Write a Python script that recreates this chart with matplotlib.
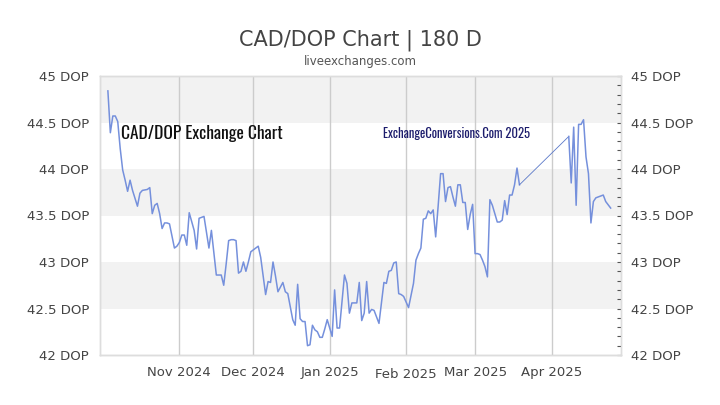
"""CAD/DOP exchange rate chart, 180 days."""

import matplotlib
matplotlib.use("Agg")
import matplotlib.pyplot as plt
from matplotlib.ticker import MultipleLocator
import pandas as pd

base_date = "2024-11-01"

# days after base_date, and the rate on that day
day_offsets = [
    -29, -28, -27, -26, -25, -24, -23, -22, -21, -20, -19, -17, -16, -15,
    -13, -12, -11, -10, -9, -8, -7, -6, -5, -4, -2, -1, 0,
    1, 2, 3, 4, 6, 7, 8, 9, 10, 12, 13, 14, 15, 17, 18, 19, 20, 21, 22, 23,
    24, 25, 26, 27, 28, 29, 30, 31, 32, 33, 34, 35, 36, 37, 38, 39, 40, 41,
    42, 43, 44, 45, 46, 47, 48, 49, 50, 51, 52, 53, 54, 55, 56, 57, 58, 59,
    60, 61, 62, 63, 64, 65, 66, 67, 68, 69, 70, 71, 72, 73, 74, 75, 76, 77,
    78, 79, 80, 81, 82, 83, 84, 85, 86, 87, 88, 89, 90, 91, 92, 93, 94, 95,
    96, 97, 98, 99, 100, 101, 102, 103, 104, 105, 106, 107, 108, 109, 110,
    111, 112, 113, 114, 115, 116, 117, 118, 119, 120, 121, 122, 123, 124,
    125, 126, 127, 128, 129, 130, 131, 132, 133, 134, 135, 136, 137, 138,
]
rates = [
    44.84, 44.39, 44.57, 44.57, 44.51, 44.22, 43.99, 43.88, 43.76, 43.88,
    43.77, 43.60, 43.74, 43.77, 43.78, 43.80, 43.52, 43.61, 43.63, 43.52,
    43.36, 43.42, 43.42, 43.41, 43.15, 43.17, 43.21,
    43.29, 43.29, 43.18, 43.53, 43.34, 43.14, 43.47, 43.48, 43.49, 43.15,
    43.34, 43.10, 42.86, 42.86, 42.75, 42.98, 43.23, 43.24, 43.24, 43.23,
    42.88, 42.90, 43.00, 42.90, 43.00, 43.11, 43.13, 43.15, 43.17, 43.05,
    42.85, 42.65, 42.79, 42.78, 43.00, 42.85, 42.68, 42.73,
    42.78, 42.68, 42.66, 42.52, 42.38, 42.32, 42.76, 42.39, 42.36, 42.36,
    42.10, 42.11, 42.32, 42.27, 42.25, 42.19, 42.19, 42.28,
    42.38, 42.29, 42.20, 42.70, 42.29, 42.29, 42.58, 42.86, 42.77, 42.45,
    42.56, 42.56, 42.56, 42.78, 42.37, 42.45, 42.79, 42.45,
    42.49, 42.48, 42.41, 42.34, 42.56, 42.78, 42.77, 42.90, 42.91, 42.99,
    43.00, 42.66, 42.65, 42.63, 42.57, 42.51, 42.64, 42.77,
    43.02, 43.09, 43.15, 43.46, 43.47, 43.55, 43.52, 43.56, 43.27, 43.60,
    43.95, 43.95, 43.65, 43.80, 43.81,
    43.70, 43.60, 43.83, 43.83, 43.64, 43.64, 43.35, 43.51, 43.62, 43.09,
    43.09, 43.08, 43.02, 42.95,
    42.84, 43.67, 43.61, 43.52, 43.43, 43.43, 43.45, 43.66, 43.51, 43.72,
    43.72, 43.83, 44.01, 43.83,
]

# after the gap in the data
late_offsets = [158, 159, 160, 161, 162, 163, 164, 165, 166, 167, 168, 169,
                170, 172, 173, 175]
late_rates = [44.35, 43.85, 44.45, 43.61, 44.48, 44.48, 44.53, 44.13, 43.95,
              43.42, 43.65, 43.69, 43.70, 43.72, 43.65, 43.58]

month_ticks = ["2024-11-01", "2024-12-01", "2025-01-01", "2025-02-01",
               "2025-03-01", "2025-04-01"]
month_labels = ["Nov 2024", "Dec 2024", "Jan 2025", "Feb 2025",
                "Mar 2025", "Apr 2025"]
rate_ticks = [42, 42.5, 43, 43.5, 44, 44.5, 45]

base = pd.Timestamp(base_date)
dates = base + pd.to_timedelta(day_offsets, unit="D")
late_dates = base + pd.to_timedelta(late_offsets, unit="D")

line_color = "#7590dc"
text_color = "#444444"

fig = plt.figure(figsize=(7.2, 4.05), dpi=100)
ax = fig.add_axes([100 / 720, 1 - 355 / 405, 521 / 720, 279 / 405])

for low in [42.5, 43.5, 44.5]:
    ax.axhspan(low, low + 0.5, color="#f2f2f2", zorder=0, lw=0)

for m in month_ticks:
    ax.axvline(pd.Timestamp(m), color="#cccccc", lw=1, zorder=1)

ax.plot(dates, rates, color=line_color, lw=1.1, zorder=3)
ax.plot([dates[-1], late_dates[0]], [rates[-1], late_rates[0]],
        color="#5a78c8", lw=0.6, zorder=3)
ax.plot(late_dates, late_rates, color=line_color, lw=1.1, zorder=3)

ax.set_xlim(base - pd.Timedelta(days=32.2), base + pd.Timedelta(days=179.2))
ax.set_ylim(42, 45)

ax.set_xticks([pd.Timestamp(m) for m in month_ticks])
ax.set_xticklabels(month_labels)
ax.tick_params(axis="x", length=0, pad=8, labelsize=9.5, colors=text_color)
for lbl in ax.get_xticklabels():
    if lbl.get_text().startswith("Feb"):
        lbl.set_y(-0.008)

ax.set_yticks(rate_ticks)
ax.set_yticklabels([f"{v:g} DOP" for v in rate_ticks])
ax.tick_params(axis="y", length=0, pad=8, labelsize=9.5, colors=text_color)

right = ax.twinx()
right.set_ylim(42, 45)
right.set_yticks(rate_ticks)
right.set_yticklabels([f"{v:g} DOP" for v in rate_ticks])
right.yaxis.set_minor_locator(MultipleLocator(0.1))
right.tick_params(axis="y", which="both", direction="in", length=3,
                  width=0.8, color="#555555", pad=7, labelsize=9.5,
                  labelcolor=text_color)

for a in (ax, right):
    for side, sp in a.spines.items():
        sp.set_color("#dddddd")
        sp.set_linewidth(1)
ax.spines["bottom"].set_color("#cccccc")

fig.text(0.5, 1 - 40 / 405, "CAD/DOP Chart | 180 D", ha="center",
         va="center", fontsize=15, color=text_color)
fig.text(0.5, 1 - 62 / 405, "liveexchanges.com", ha="center", va="center",
         fontsize=8.5, color="#555555")

ax.text(121 / 720, 1 - 134 / 405, "CAD/DOP Exchange Chart",
        transform=fig.transFigure, ha="left", va="center", fontsize=12.5,
        family=["Oswald", "DejaVu Sans"], fontweight="semibold",
        color="#111111", zorder=4)
ax.text(383 / 720, 1 - 134 / 405, "ExchangeConversions.Com 2025",
        transform=fig.transFigure, ha="left", va="center", fontsize=9.1,
        family=["Oswald", "DejaVu Sans"], fontweight="semibold",
        color="#1c1c6c", zorder=4)

fig.savefig("out.png", dpi=100)
